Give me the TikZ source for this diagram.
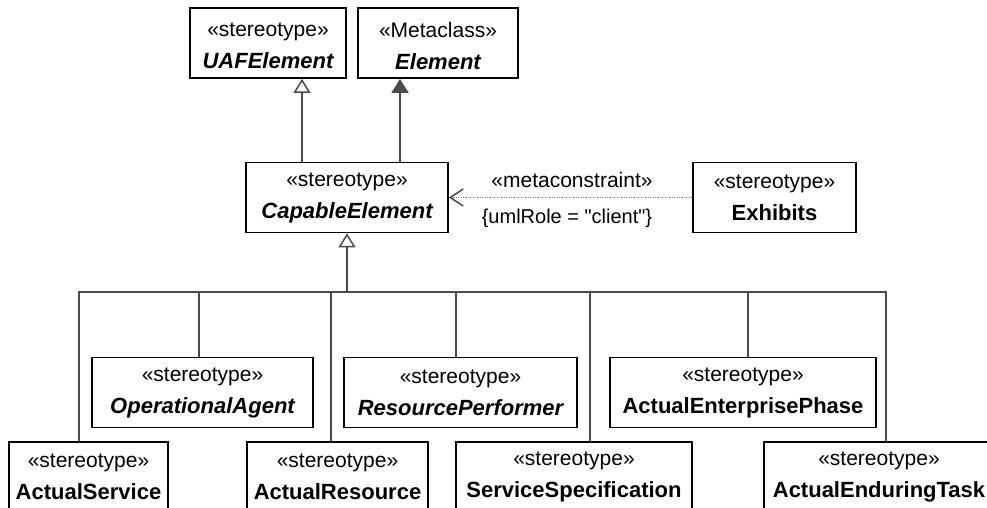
\documentclass[tikz,border=0pt]{standalone}
\usepackage{fontspec}
\setmainfont{Liberation Sans}[Ligatures=TeXOff]
\usetikzlibrary{arrows.meta}
\definecolor{linegray}{RGB}{75,75,75}
\definecolor{dotgray}{RGB}{130,130,130}
\newcommand{\clsname}[1]{{\fontsize{22}{32}\selectfont\bfseries #1}}
\newcommand{\lowered}[1]{\raisebox{-3pt}[\height][\depth]{#1}}
\begin{document}
\begin{tikzpicture}[x=1pt,y=-1pt,
  cls/.style={draw=black, line width=1.8pt, fill=white, inner sep=0pt, minimum height=70pt, align=center, font=\fontsize{21}{32}\selectfont},
  conn/.style={draw=linegray, line width=1.7pt},
  gen/.style={conn, -{Triangle[open, length=14pt, width=17pt, line width=1.5pt]}},
  genf/.style={conn, -{Triangle[length=14pt, width=17pt, fill=linegray]}},
  dep/.style={draw=dotgray, line width=1.2pt, dash pattern=on 1.2pt off 1.2pt, -{Straight Barb[length=13pt, width=17pt, line width=1.5pt, color=linegray]}},
  lbl/.style={inner sep=0pt, font=\fontsize{21}{25}\selectfont}
]
\useasboundingbox (0,0) rectangle (987,508);
\fill[white] (0,0) rectangle (987,508);

% classes
\node[cls, minimum width=156pt] (uaf) at (268,43) {\lowered{«stereotype»}\\\lowered{\clsname{\itshape UAFElement}}};
\node[cls, minimum width=160pt] (elem) at (438,43) {\lowered{«Metaclass»}\\\lowered{\clsname{\itshape Element}}};
\node[cls, minimum width=202pt] (cap) at (347,197.5) {«stereotype»\\\clsname{\itshape CapableElement}};
\node[cls, minimum width=163pt] (exh) at (774.5,197.5) {«stereotype»\\\clsname{Exhibits}};
\node[cls, minimum width=221pt] (opag) at (202.5,392.5) {«stereotype»\\\clsname{\itshape OperationalAgent}};
\node[cls, minimum width=233pt] (resp) at (460.5,392.5) {«stereotype»\\\clsname{\itshape ResourcePerformer}};
\node[cls, minimum width=266pt] (aep) at (743,392.5) {«stereotype»\\\clsname{ActualEnterprisePhase}};
\node[cls, minimum width=159pt] (asvc) at (88.5,477) {«stereotype»\\\clsname{ActualService}};
\node[cls, minimum width=181pt] (ares) at (337.5,477) {«stereotype»\\\clsname{ActualResource}};
\node[cls, minimum width=236pt] (sspec) at (574,477) {«stereotype»\\\clsname{ServiceSpecification}};
\node[cls, minimum width=230pt] (aet) at (879,477) {«stereotype»\\\clsname{ActualEnduringTask}};

% helper coordinates
\coordinate (xu) at (302,0);
\coordinate (xe) at (400,0);
\coordinate (bus) at (347,292);
\coordinate (xA) at (79,0);
\coordinate (xB) at (199,0);
\coordinate (xC) at (331,0);
\coordinate (xD) at (456,0);
\coordinate (xE) at (590,0);
\coordinate (xF) at (748,0);
\coordinate (xG) at (886,0);

% generalizations to top
\draw[gen] (xu |- cap.north) -- (xu |- uaf.south);
\draw[genf] (xe |- cap.north) -- (xe |- elem.south);

% dependency
\draw[dep] (exh.west) -- (cap.east);
\node[lbl] (mc) at (572,180) {«metaconstraint»};
\node[lbl, font=\fontsize{20}{24}\selectfont] (role) at (567,218) {\{umlRole = "client"\}};

% generalization tree
\draw[conn] (xA |- asvc.north) -- (xA |- bus) -- (xG |- bus) -- (xG |- aet.north);
\draw[conn] (xB |- bus) -- (xB |- opag.north);
\draw[conn] (xC |- bus) -- (xC |- ares.north);
\draw[conn] (xD |- bus) -- (xD |- resp.north);
\draw[conn] (xE |- bus) -- (xE |- sspec.north);
\draw[conn] (xF |- bus) -- (xF |- aep.north);
\draw[gen] (bus) -- (cap.south);
\end{tikzpicture}
\end{document}
